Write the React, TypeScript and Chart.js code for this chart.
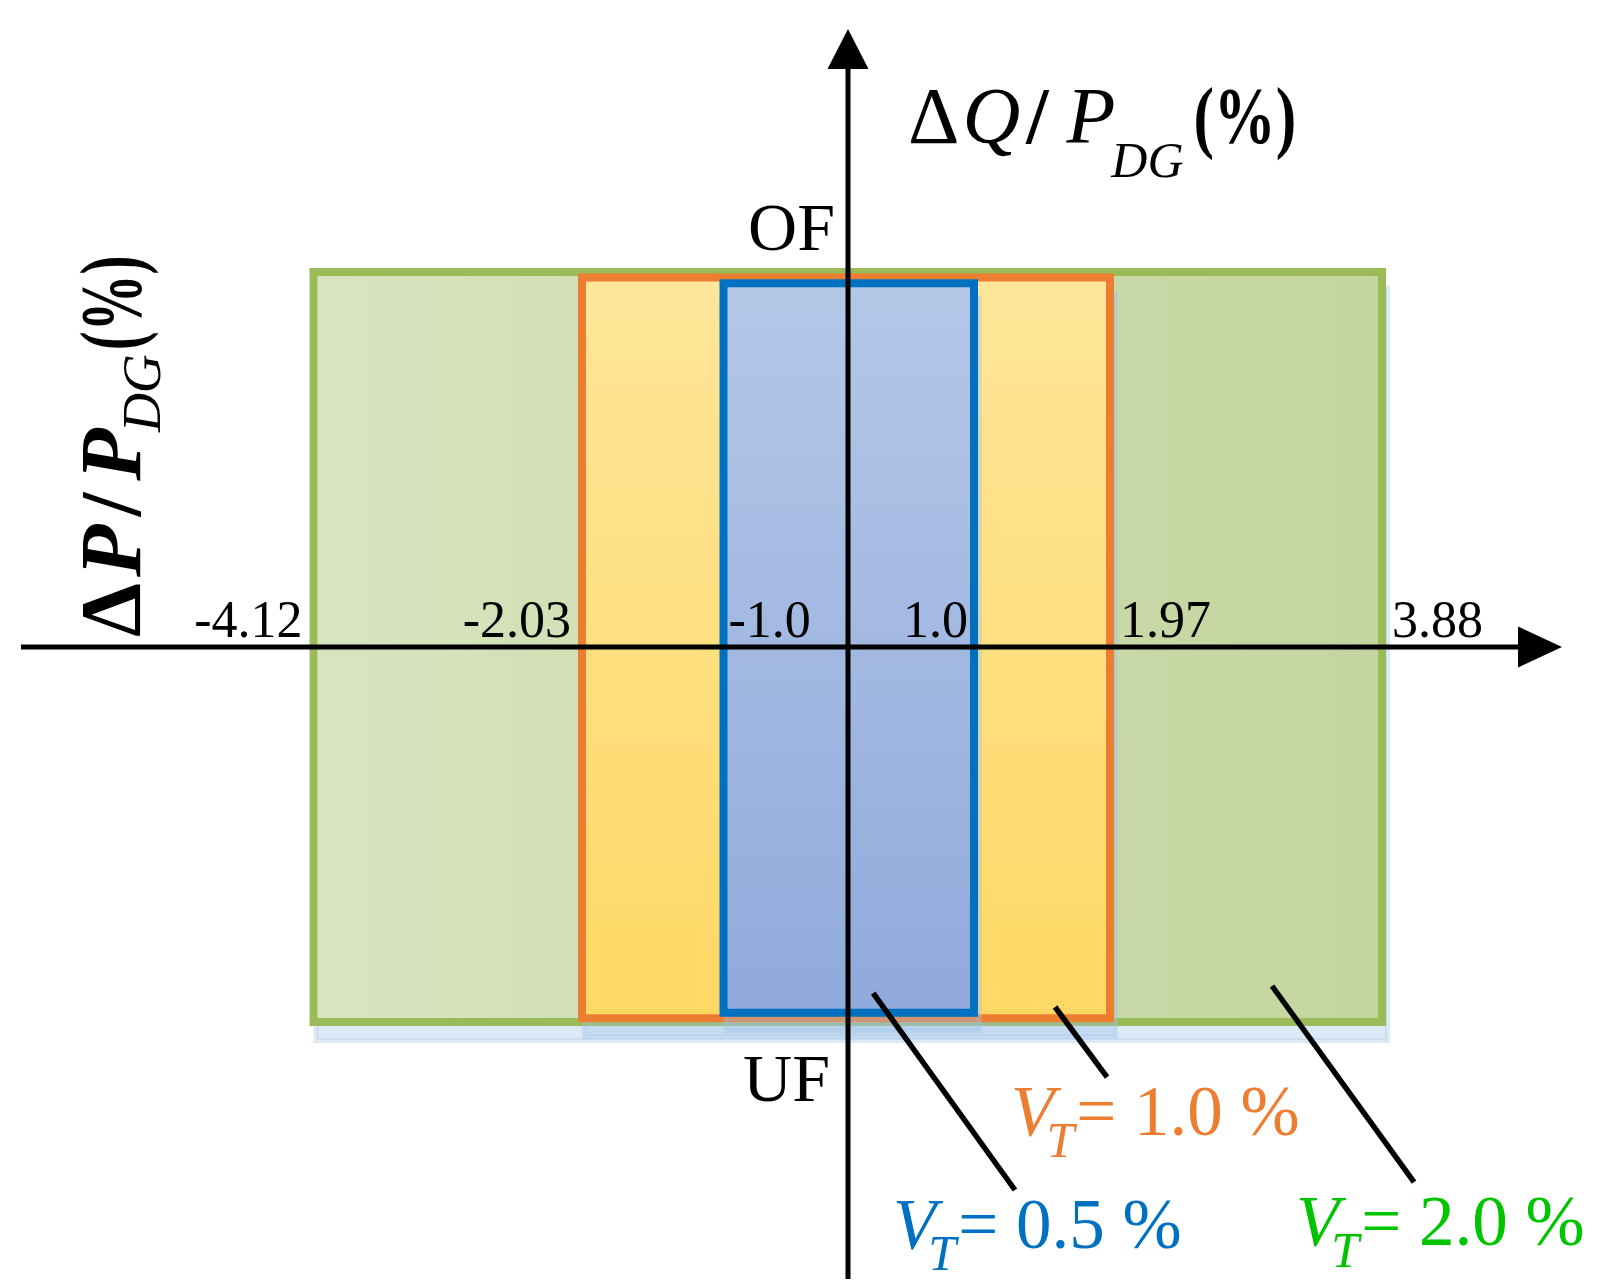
import React, { useEffect, useRef } from 'react';
import { Chart, registerables, LinearScale } from 'chart.js';

// ---------------- data ----------------
// Nested non-detection zones for three threshold voltages V_T
const ZONE_VT = ['2.0', '1.0', '0.5'];
const ZONE_P_MIN = [-4.12, -2.03, -1.0]; // ΔP/P_DG (%) left edges
const ZONE_P_MAX = [3.88, 1.97, 1.0]; // ΔP/P_DG (%) right edges
const ZONE_Q_MAX = [1.0, 0.985, 0.97]; // schematic ΔQ extent (OF side)
const ZONE_Q_MIN = [-1.0, -0.99, -0.975]; // schematic ΔQ extent (UF side)

const TICK_VALUES = [-4.12, -2.03, -1.0, 1.0, 1.97, 3.88];
const TICK_LABELS = ['-4.12', '-2.03', '-1.0', '1.0', '1.97', '3.88'];

// annotation leader lines and label anchors (data units)
const LEADER_FROM_P = [3.108, 1.578, 0.2];
const LEADER_FROM_Q = [-0.904, -0.96, -0.923];
const LEADER_TO_P = [4.105, 1.949, 1.292];
const LEADER_TO_Q = [-1.427, -1.147, -1.448];
const LABEL_P = [3.276, 1.264, 0.357];
const LABEL_Q = [-1.595, -1.301, -1.603];

// axis extents (data units)
const X_AXIS_FROM = -6.397;
const X_AXIS_TO = 5.144;
const Y_AXIS_FROM = -1.685;
const Y_AXIS_TO = 1.648;

// ---------------- scale config (schematic, not to scale) ----------------
const X_MIN = -6.56;
const X_MAX = 5.488;
const X_KNOT_VALUES = [-6.56, -4.12, -2.03, -1.0, 0, 1.0, 1.97, 3.88, 5.488];
const X_KNOT_FRACS = [0, 0.1946, 0.36127, 0.4491, 0.52638, 0.60459, 0.68901, 0.85785, 1];
const Y_MIN = -1.7093;
const Y_MAX = 1.7253;

// ---------------- styles ----------------
const SERIF = '"Liberation Serif", "Times New Roman", serif';
const ZONE_BORDER = ['#9bbb59', '#ed7d31', '#0070c0'];
const ZONE_FILL_START = ['#d8e4be', '#fee69a', '#b5c7e7'];
const ZONE_FILL_END = ['#c3d59f', '#fed864', '#8faadb'];
const ZONE_GRAD_DIR = ['h', 'v', 'v'];
const ZONE_TEXT = ['#00c400', '#ed7d31', '#0070c0'];
const BORDER_W = 8;
const SHADOW_DX = 4;
const SHADOW_DY = 17;
const TICK_ALIGN: CanvasTextAlign[] = ['right', 'right', 'left', 'right', 'left', 'left'];
const TICK_DX = [-11, -11, 5, -6, 10, 10];

class PiecewiseScale extends LinearScale {
  static id = 'piecewise';
  static defaults = {};
  valueToDecimal(v: number) {
    const kv = X_KNOT_VALUES, kf = X_KNOT_FRACS;
    let i = 0;
    if (v <= kv[0]) i = 0;
    else if (v >= kv[kv.length - 1]) i = kv.length - 2;
    else { while (i < kv.length - 2 && v > kv[i + 1]) i++; }
    const t = (v - kv[i]) / (kv[i + 1] - kv[i]);
    return kf[i] + t * (kf[i + 1] - kf[i]);
  }
  decimalToValue(d: number) {
    const kv = X_KNOT_VALUES, kf = X_KNOT_FRACS;
    let i = 0;
    if (d <= kf[0]) i = 0;
    else if (d >= kf[kf.length - 1]) i = kf.length - 2;
    else { while (i < kf.length - 2 && d > kf[i + 1]) i++; }
    const t = (d - kf[i]) / (kf[i + 1] - kf[i]);
    return kv[i] + t * (kv[i + 1] - kv[i]);
  }
  getPixelForValue(value: any) {
    if (value === null || value === undefined || Number.isNaN(value)) return NaN;
    return this.getPixelForDecimal(this.valueToDecimal(value));
  }
  getValueForPixel(pixel: number) {
    return this.decimalToValue(this.getDecimalForPixel(pixel));
  }
}

Chart.register(...registerables, PiecewiseScale);

type Run = { t: string; font: string; dx?: number; dy?: number; sx?: number };
function drawRuns(ctx: CanvasRenderingContext2D, runs: Run[], x0: number, y0: number, color: string) {
  let cx = 0;
  ctx.fillStyle = color;
  ctx.textBaseline = 'alphabetic';
  ctx.textAlign = 'left';
  for (const r of runs) {
    cx += r.dx ?? 0;
    ctx.font = r.font;
    const sx = r.sx ?? 1;
    const w = ctx.measureText(r.t).width * sx;
    ctx.save();
    ctx.translate(x0 + cx, y0 + (r.dy ?? 0));
    ctx.scale(sx, 1);
    ctx.fillText(r.t, 0, 0);
    ctx.restore();
    cx += w;
  }
}

const zonePlugin = {
  id: 'zoneFill',
  beforeDatasetDraw(chart: any, args: any) {
    const i = args.index;
    if (i >= ZONE_P_MIN.length) return;
    const { ctx } = chart;
    const x = chart.scales.x, y = chart.scales.y;
    const l = x.getPixelForValue(ZONE_P_MIN[i]);
    const r = x.getPixelForValue(ZONE_P_MAX[i]);
    const t = y.getPixelForValue(ZONE_Q_MAX[i]);
    const b = y.getPixelForValue(ZONE_Q_MIN[i]);
    const hw = BORDER_W / 2;
    ctx.save();
    // soft light-blue shadow
    ctx.fillStyle = 'rgba(157,195,230,0.36)';
    ctx.fillRect(l - hw + SHADOW_DX, t - hw + SHADOW_DY, r - l + 2 * hw, b - t + 2 * hw);
    ctx.strokeStyle = 'rgba(157,195,230,0.35)';
    ctx.lineWidth = 1.5;
    ctx.strokeRect(l - hw + SHADOW_DX + 4, t - hw + SHADOW_DY + 4, r - l + 2 * hw - 8, b - t + 2 * hw - 8);
    // gradient fill
    const g = ZONE_GRAD_DIR[i] === 'h' ? ctx.createLinearGradient(l, 0, r, 0) : ctx.createLinearGradient(0, t, 0, b);
    g.addColorStop(0, ZONE_FILL_START[i]);
    g.addColorStop(1, ZONE_FILL_END[i]);
    ctx.fillStyle = g;
    ctx.fillRect(l, t, r - l, b - t);
    ctx.restore();
  },
};

const axesPlugin = {
  id: 'axesArrows',
  afterDatasetsDraw(chart: any) {
    const { ctx } = chart;
    const x = chart.scales.x, y = chart.scales.y;
    const x0 = x.getPixelForValue(0);
    const y0 = y.getPixelForValue(0);
    const xa = x.getPixelForValue(X_AXIS_FROM), xb = x.getPixelForValue(X_AXIS_TO);
    const ya = y.getPixelForValue(Y_AXIS_FROM), yb = y.getPixelForValue(Y_AXIS_TO);
    ctx.save();
    ctx.fillStyle = '#000';
    ctx.strokeStyle = '#000';
    ctx.lineWidth = 5;
    ctx.lineCap = 'butt';
    // x axis
    ctx.beginPath();
    ctx.moveTo(xa, y0);
    ctx.lineTo(xb - 40, y0);
    ctx.stroke();
    ctx.beginPath();
    ctx.moveTo(xb, y0);
    ctx.lineTo(xb - 44, y0 - 20.5);
    ctx.lineTo(xb - 44, y0 + 20.5);
    ctx.closePath();
    ctx.fill();
    // y axis
    ctx.beginPath();
    ctx.moveTo(x0, ya);
    ctx.lineTo(x0, yb + 36);
    ctx.stroke();
    ctx.beginPath();
    ctx.moveTo(x0, yb);
    ctx.lineTo(x0 - 20.5, yb + 40);
    ctx.lineTo(x0 + 20.5, yb + 40);
    ctx.closePath();
    ctx.fill();
    ctx.restore();
  },
};

const textPlugin = {
  id: 'texts',
  afterDraw(chart: any) {
    const { ctx } = chart;
    const x = chart.scales.x, y = chart.scales.y;
    const x0 = x.getPixelForValue(0);
    const y0 = y.getPixelForValue(0);
    ctx.save();
    // tick labels
    ctx.fillStyle = '#000';
    ctx.font = `52px ${SERIF}`;
    ctx.textBaseline = 'alphabetic';
    TICK_VALUES.forEach((v, i) => {
      ctx.textAlign = TICK_ALIGN[i];
      ctx.fillText(TICK_LABELS[i], x.getPixelForValue(v) + TICK_DX[i], y0 - 10);
    });
    // OF / UF
    ctx.font = `68px ${SERIF}`;
    ctx.textAlign = 'right';
    ctx.fillText('OF', x0 - 13, y.getPixelForValue(ZONE_Q_MAX[0]) - 22);
    ctx.fillText('UF', x0 - 18, y.getPixelForValue(ZONE_Q_MIN[0]) + 79);

    // y-axis title (top)
    drawRuns(ctx, [
      { t: 'Δ', font: `80px ${SERIF}` },
      { t: 'Q', font: `italic 80px ${SERIF}`, dx: 3 },
      { t: '/', font: `bold 80px ${SERIF}`, dx: 6 },
      { t: 'P', font: `italic 80px ${SERIF}`, dx: 18 },
      { t: 'DG', font: `italic 50px ${SERIF}`, dx: -4, dy: 34 },
      { t: '(%)', font: `bold 80px ${SERIF}`, dx: 10, sx: 0.77 },
    ], x0 + 60, 143, '#000');

    // x-axis title (rotated, left)
    ctx.save();
    ctx.translate(140, y0 - 10);
    ctx.rotate(-Math.PI / 2);
    drawRuns(ctx, [
      { t: 'Δ', font: `bold 86px ${SERIF}` },
      { t: 'P', font: `italic bold 86px ${SERIF}`, dx: 6 },
      { t: '/', font: `bold 86px ${SERIF}`, dx: 8 },
      { t: 'P', font: `italic bold 86px ${SERIF}`, dx: 12 },
      { t: 'DG', font: `italic 54px ${SERIF}`, dx: -4, dy: 20 },
      { t: '(%)', font: `bold 86px ${SERIF}`, dx: 4, sx: 0.66 },
    ], 0, 0, '#000');
    ctx.restore();

    // zone labels
    ZONE_VT.forEach((vt, i) => {
      drawRuns(ctx, [
        { t: 'V', font: `italic 71px ${SERIF}` },
        { t: 'T', font: `italic 50px ${SERIF}`, dx: -8, dy: 22 },
        { t: `= ${vt} %`, font: `71px ${SERIF}`, dx: 2 },
      ], x.getPixelForValue(LABEL_P[i]), y.getPixelForValue(LABEL_Q[i]), ZONE_TEXT[i]);
    });
    ctx.restore();
  },
};

export default function App() {
  const canvasRef = useRef<HTMLCanvasElement | null>(null);

  useEffect(() => {
    const canvas = canvasRef.current;
    if (!canvas) return;

    const zoneSets = ZONE_P_MIN.map((_, i) => ({
      label: `V_T = ${ZONE_VT[i]} %`,
      data: [
        { x: ZONE_P_MIN[i], y: ZONE_Q_MAX[i] },
        { x: ZONE_P_MAX[i], y: ZONE_Q_MAX[i] },
        { x: ZONE_P_MAX[i], y: ZONE_Q_MIN[i] },
        { x: ZONE_P_MIN[i], y: ZONE_Q_MIN[i] },
        { x: ZONE_P_MIN[i], y: ZONE_Q_MAX[i] },
      ],
      borderColor: ZONE_BORDER[i],
      borderWidth: BORDER_W,
      borderJoinStyle: 'miter',
      borderCapStyle: 'square',
      pointRadius: 0,
      pointHoverRadius: 0,
      fill: false,
      tension: 0,
      order: 10 - i,
    }));
    const leaderSets = LEADER_FROM_P.map((_, i) => ({
      label: `leader ${i}`,
      data: [
        { x: LEADER_FROM_P[i], y: LEADER_FROM_Q[i] },
        { x: LEADER_TO_P[i], y: LEADER_TO_Q[i] },
      ],
      borderColor: '#000',
      borderWidth: 5.5,
      pointRadius: 0,
      pointHoverRadius: 0,
      fill: false,
      tension: 0,
      order: 1,
    }));

    const chart = new Chart(canvas, {
      type: 'line',
      data: { datasets: [...zoneSets, ...leaderSets] as any },
      options: {
        animation: false,
        responsive: false,
        maintainAspectRatio: false,
        devicePixelRatio: 1,
        events: [],
        layout: { padding: 0 },
        scales: {
          x: { type: 'piecewise' as any, display: false, min: X_MIN, max: X_MAX },
          y: { type: 'linear', display: false, min: Y_MIN, max: Y_MAX },
        },
        plugins: {
          legend: { display: false },
          tooltip: { enabled: false },
        },
      } as any,
      plugins: [zonePlugin, axesPlugin, textPlugin],
    });
    return () => chart.destroy();
  }, []);

  return (
    <div style={{ position: 'absolute', left: 0, top: 0, width: 1611, height: 1288, background: '#fff' }}>
      <canvas ref={canvasRef} width={1611} height={1288} style={{ display: 'block' }} />
    </div>
  );
}
